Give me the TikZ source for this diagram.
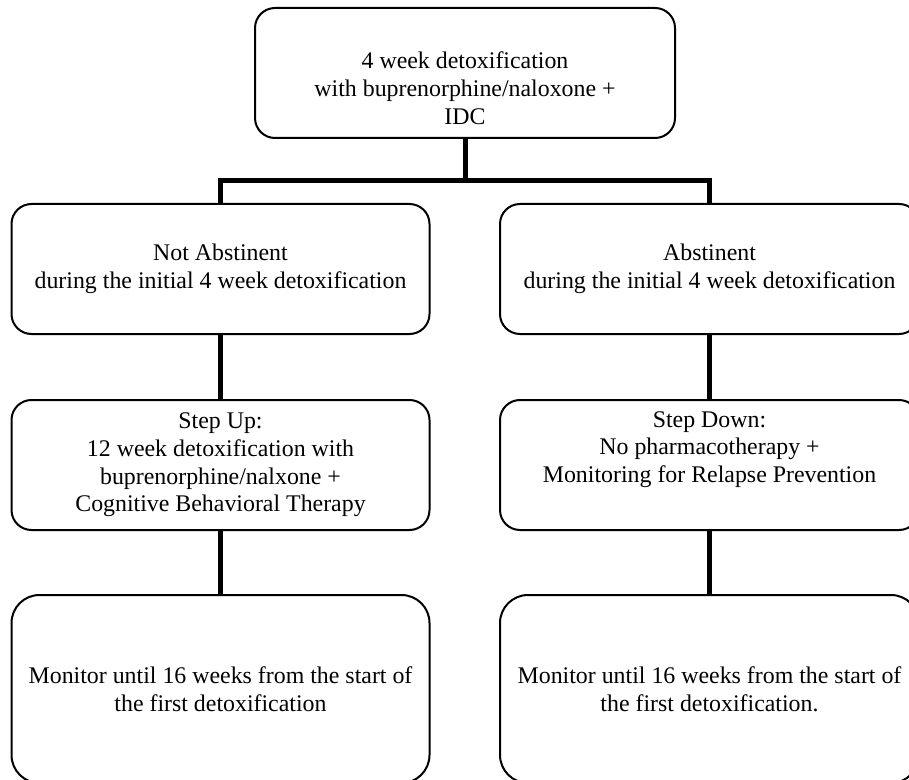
\documentclass[tikz,border=0pt]{standalone}
\usepackage{fontspec}
\setmainfont{Liberation Serif}
\usetikzlibrary{positioning}

\tikzset{
  box/.style={draw=black, line width=1.5pt, rounded corners=15pt, align=center,
    minimum width=418*0.75pt, minimum height=130*0.75pt, inner sep=0pt,
    font=\fontsize{17.9pt}{20.8pt}\selectfont},
  bigbox/.style={box, rounded corners=21pt, minimum height=188*0.75pt},
  link/.style={draw=black, line width=3.75pt}
}

\begin{document}
\begin{tikzpicture}[x=0.75pt,y=-0.75pt]
   \useasboundingbox (0,0) rectangle (909,780);
   \clip (0,0) rectangle (909,780);

   %% Kaesten
   \node[box, minimum width=420*0.75pt] (detox) at (465,73)
      {\strut\\4 week detoxification\\with buprenorphine/naloxone +\\IDC};
   \node[box] (notabs) at (220.5,269)
      {Not Abstinent\\during the initial 4 week detoxification};
   \node[box, minimum width=419*0.75pt] (abs) at (709.5,269)
      {Abstinent\\during the initial 4 week detoxification};
   \node[box] (stepup) at (220.5,465)
      {Step Up:\\12 week detoxification with\\buprenorphine/nalxone +\\Cognitive Behavioral Therapy};
   \node[box, minimum width=419*0.75pt] (stepdown) at (709.5,465)
      {Step Down:\\No pharmacotherapy +\\Monitoring for Relapse Prevention\\\strut};
   \node[bigbox] (monleft) at (220.5,689)
      {Monitor until 16 weeks from the start of\\the first detoxification};
   \node[bigbox, minimum width=419*0.75pt] (monright) at (709.5,689)
      {Monitor until 16 weeks from the start of\\the first detoxification.};

   %% Verbindungen
   \coordinate (split) at (465,180.5);
   \draw[link] (detox.south) -- (split);
   \draw[link] (notabs.north) |- (split) -| (abs.north);
   \draw[link] (notabs.south) -- (stepup.north);
   \draw[link] (abs.south) -- (stepdown.north);
   \draw[link] (stepup.south) -- (monleft.north);
   \draw[link] (stepdown.south) -- (monright.north);
\end{tikzpicture}
\end{document}
